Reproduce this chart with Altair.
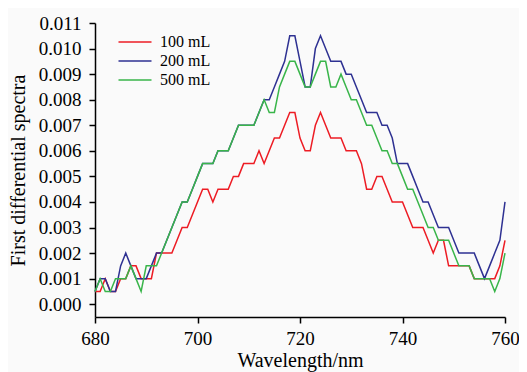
import altair as alt
import pandas as pd

wavelength = list(range(680, 761))

red_100 = [
    0.0005, 0.0005, 0.001, 0.0005, 0.0005, 0.001, 0.001, 0.0015, 0.0015, 0.001,
    0.001, 0.001, 0.002, 0.002, 0.002, 0.002, 0.0025, 0.003, 0.003, 0.0035,
    0.004, 0.0045, 0.0045, 0.004, 0.0045, 0.0045, 0.0045, 0.005, 0.005, 0.0055,
    0.0055, 0.0055, 0.006, 0.0055, 0.006, 0.0065, 0.0065, 0.007, 0.0075, 0.0075,
    0.0065, 0.006, 0.006, 0.007, 0.0075, 0.007, 0.0065, 0.0065, 0.0065, 0.006,
    0.006, 0.006, 0.0055, 0.0045, 0.0045, 0.005, 0.005, 0.0045, 0.004, 0.004,
    0.004, 0.0035, 0.003, 0.003, 0.003, 0.0025, 0.002, 0.0025, 0.0025, 0.0015,
    0.0015, 0.0015, 0.0015, 0.0015, 0.001, 0.001, 0.001, 0.001, 0.001, 0.0015,
    0.0025,
]

blue_200 = [
    0.0005, 0.001, 0.001, 0.0005, 0.0005, 0.0015, 0.002, 0.0015, 0.001, 0.001,
    0.001, 0.0015, 0.002, 0.002, 0.0025, 0.003, 0.0035, 0.004, 0.004, 0.0045,
    0.005, 0.0055, 0.0055, 0.0055, 0.006, 0.006, 0.006, 0.0065, 0.007, 0.007,
    0.007, 0.007, 0.0075, 0.008, 0.008, 0.0085, 0.009, 0.0095, 0.0105, 0.0105,
    0.0095, 0.0085, 0.0085, 0.010, 0.0105, 0.010, 0.0095, 0.0095, 0.0095, 0.009,
    0.009, 0.0085, 0.008, 0.0075, 0.0075, 0.0075, 0.007, 0.007, 0.0065, 0.0055,
    0.0055, 0.0055, 0.005, 0.0045, 0.004, 0.004, 0.0035, 0.003, 0.003, 0.003,
    0.0025, 0.002, 0.002, 0.002, 0.002, 0.0015, 0.001, 0.0015, 0.002, 0.0025,
    0.004,
]

green_500 = [
    0.0005, 0.001, 0.0005, 0.0005, 0.001, 0.001, 0.001, 0.0015, 0.001, 0.0005,
    0.0015, 0.0015, 0.0015, 0.002, 0.0025, 0.003, 0.0035, 0.004, 0.004, 0.0045,
    0.005, 0.0055, 0.0055, 0.0055, 0.006, 0.006, 0.006, 0.0065, 0.007, 0.007,
    0.007, 0.007, 0.0075, 0.008, 0.0075, 0.0075, 0.0085, 0.009, 0.0095, 0.0095,
    0.009, 0.0085, 0.0085, 0.009, 0.0095, 0.0095, 0.0085, 0.0085, 0.009, 0.0085,
    0.008, 0.008, 0.0075, 0.007, 0.007, 0.0065, 0.006, 0.006, 0.0055, 0.0055,
    0.005, 0.0045, 0.0045, 0.004, 0.0035, 0.003, 0.003, 0.0025, 0.0025, 0.0025,
    0.002, 0.0015, 0.0015, 0.0015, 0.001, 0.001, 0.001, 0.001, 0.0005, 0.001,
    0.002,
]

series_names = ["100 mL", "200 mL", "500 mL"]
series_colors = ["#ED1C24", "#2E3192", "#39B54A"]
x_ticks = [680, 700, 720, 740, 760]
y_ticks = [round(i * 0.001, 3) for i in range(12)]

rows = []
for name, vals in zip(series_names, [red_100, blue_200, green_500]):
    for w, v in zip(wavelength, vals):
        rows.append({"wavelength": w, "value": v, "series": name})
df = pd.DataFrame(rows)

FONT = "Liberation Serif, Times New Roman, serif"

chart = (
    alt.Chart(df)
    .mark_line(strokeWidth=1.5)
    .encode(
        x=alt.X(
            "wavelength:Q",
            scale=alt.Scale(domain=[680, 760], nice=False, zero=False),
            axis=alt.Axis(values=x_ticks, format="d", title="Wavelength/nm",
                          labelFlush=False, titlePadding=2, labelPadding=6),
        ),
        y=alt.Y(
            "value:Q",
            scale=alt.Scale(domain=[-0.0005, 0.011], nice=False, zero=False),
            axis=alt.Axis(values=y_ticks, format=".3f",
                          title="First differential spectra",
                          labelOverlap=False, titlePadding=10, labelPadding=8),
        ),
        color=alt.Color(
            "series:N",
            scale=alt.Scale(domain=series_names, range=series_colors),
            legend=alt.Legend(
                title=None, orient="none", legendX=32, legendY=11,
                symbolType="M-3,0H3", symbolSize=121, symbolStrokeWidth=1.5,
                labelFont=FONT, labelFontSize=16, labelColor="black",
                labelOffset=17, rowPadding=3, padding=0,
            ),
        ),
    )
    .properties(
        width=410,
        height=294,
        autosize=alt.AutoSizeParams(type="none"),
        padding={"left": 87, "top": 15, "right": 14, "bottom": 55},
        background="#fafafa",
    )
    .configure_axis(
        grid=False,
        domainColor="black",
        domainWidth=1.5,
        tickColor="black",
        tickWidth=1.5,
        tickSize=6,
        labelFont=FONT,
        labelFontSize=19,
        labelColor="black",
        titleFont=FONT,
        titleFontSize=20,
        titleFontWeight="normal",
        titleColor="black",
    )
    .configure_view(stroke=None)
)

chart.save("out.html", embed_options={"renderer": "svg", "actions": False})
